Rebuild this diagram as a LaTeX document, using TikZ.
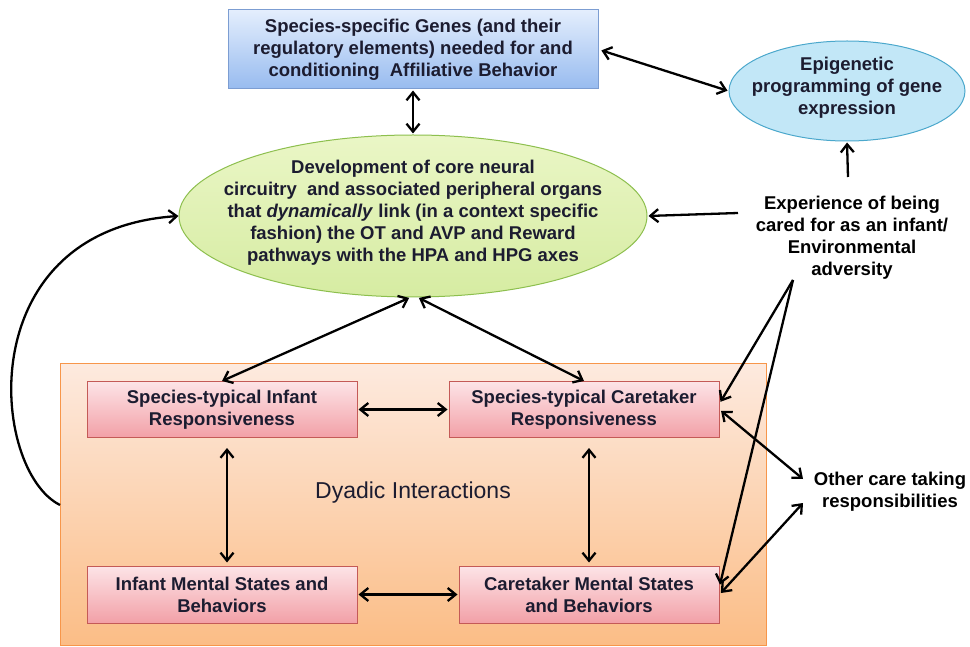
\documentclass[tikz,border=0pt]{standalone}
\usepackage{fontspec}
\setmainfont{Liberation Sans}
\usetikzlibrary{shapes.geometric,arrows.meta}
\definecolor{txtc}{HTML}{1C1C30}
\definecolor{bluetop}{HTML}{E4EEFD}
\definecolor{bluebot}{HTML}{97BBEF}
\definecolor{bluebd}{HTML}{7C9DD2}
\definecolor{epifill}{HTML}{C2E7F7}
\definecolor{epibd}{HTML}{4BA8CC}
\definecolor{greentop}{HTML}{EAF6C6}
\definecolor{greenbot}{HTML}{D6ECA2}
\definecolor{greenbd}{HTML}{8DBF4E}
\definecolor{orangetop}{HTML}{FDEADF}
\definecolor{orangebot}{HTML}{FBBD86}
\definecolor{orangebd}{HTML}{F7964A}
\definecolor{pinktop}{HTML}{FDE4E7}
\definecolor{pinkbot}{HTML}{F2A0A7}
\definecolor{pinkbd}{HTML}{C45A57}
\begin{document}
\begin{tikzpicture}[x=1pt,y=-1pt,
  txt/.style={font=\fontsize{18.5}{22}\selectfont\bfseries, text=txtc, align=center, inner sep=0pt},
  freetxt/.style={font=\fontsize{18.5}{22}\selectfont\bfseries, text=black, align=center, inner sep=0pt},
  bluebox/.style={txt, draw=bluebd, line width=1pt, top color=bluetop, bottom color=bluebot, minimum width=370pt, minimum height=79pt},
  epiell/.style={ellipse, draw=epibd, line width=1pt, fill=epifill, minimum width=236pt, minimum height=100pt, inner sep=0pt},
  greenell/.style={ellipse, draw=greenbd, line width=1pt, top color=greentop, bottom color=greenbot, minimum width=468pt, minimum height=162pt, inner sep=0pt},
  dyadbox/.style={draw=orangebd, line width=1pt, top color=orangetop, bottom color=orangebot, minimum width=706pt, minimum height=282pt, inner sep=0pt},
  pinkbox/.style={txt, draw=pinkbd, line width=1pt, top color=pinktop, bottom color=pinkbot, minimum width=270pt, minimum height=56pt},
  arr/.style={line width=2.3pt, draw=black, >={Straight Barb[length=8pt,width=13pt]}},
]
\useasboundingbox (0,0) rectangle (970,647);
\fill[white] (0,0) rectangle (970,647);

% nodes
\node[bluebox] (genes) at (413,49.5) {Species-specific Genes (and their\\regulatory elements) needed for and\\conditioning\ \ Affiliative Behavior};
\node[epiell] (epi) at (847,91) {};
\node[txt] (epitxt) at (847,88) {Epigenetic\\programming of gene\\expression};
\node[greenell] (core) at (413,216) {};
\node[txt] (coretxt) at (413,213) {Development of core neural\\circuitry\ \ and associated peripheral organs\\that \textit{dynamically} link (in a context specific\\fashion) the OT and AVP and Reward\\pathways with the HPA and HPG axes};
\node[freetxt] (exper) at (852,238) {Experience of being\\cared for as an infant/\\Environmental\\adversity};
\node[dyadbox] (dyad) at (413,504) {};
\node[pinkbox] (sir) at (222,409.5) {Species-typical Infant\\Responsiveness};
\node[pinkbox] (scr) at (584,409.5) {Species-typical Caretaker\\Responsiveness};
\node[pinkbox, minimum height=57pt] (ims) at (222,594.5) {Infant Mental States and\\Behaviors};
\node[pinkbox, minimum width=260pt, minimum height=57pt] (cms) at (589,594.5) {Caretaker Mental States\\and Behaviors};
\node[font=\fontsize{23}{26}\selectfont, text=txtc, inner sep=0pt] (dyadlbl) at (413,493) {Dyadic Interactions};
\node[freetxt] (other) at (890,492) {Other care taking\\responsibilities};

% free connector ends
\coordinate (e1) at (848,177);
\coordinate (e2) at (738,213);
\coordinate (apex) at (793,280);
\coordinate (o1) at (803,479);
\coordinate (o2) at (803,503);
\coordinate (c1) at (60,505);

% connectors
\draw[arr,<->, shorten <=1pt, shorten >=1pt] (genes.south) -- (core.north);
\draw[arr,<->, shorten <=3pt, shorten >=1pt] (genes.east) -- (epi.west);
\draw[arr,->, shorten >=1pt] (e1) -- (epi.south);
\draw[arr,->, shorten >=1pt] (e2) -- (core.east);
\draw[arr,<->, shorten <=1pt] ([xshift=-3pt]core.south) -- (sir.north);
\draw[arr,<->, shorten <=1pt] ([xshift=5pt]core.south) -- (scr.north);
\draw[arr,<->, shorten <=1pt, shorten >=1pt] (sir.east) -- (scr.west);
\draw[arr,<->, shorten <=1pt, shorten >=1pt] (ims.east) -- (cms.west);
\draw[arr,<->, shorten <=10pt, shorten >=3pt] ([xshift=5pt]sir.south) -- ([xshift=5pt]ims.north);
\draw[arr,<->, shorten <=10pt, shorten >=3pt] ([xshift=5pt]scr.south) -- (cms.north);
\draw[arr,->] (c1) .. controls (-10,470) and (-30,230) .. (core.west);
\draw[arr,->, shorten >=2pt] (apex) -- ([yshift=6pt]scr.east);
\draw[arr,->, shorten >=2pt] (apex) -- ([yshift=8pt]cms.east);
\draw[arr,<->, shorten <=2pt] ([yshift=0pt]scr.east) -- (o1);
\draw[arr,<->, shorten <=2pt] ([yshift=0pt]cms.east) -- (o2);
\end{tikzpicture}
\end{document}
